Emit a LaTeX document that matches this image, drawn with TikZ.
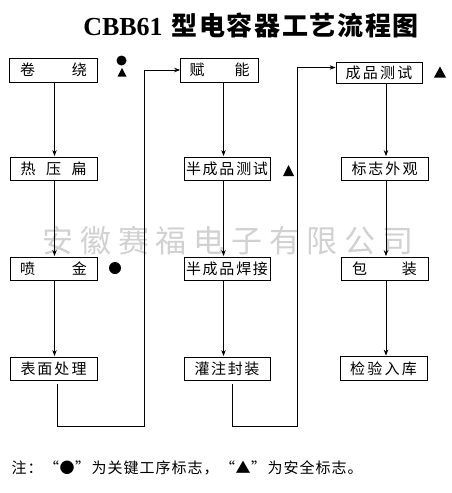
\documentclass[tikz,border=0pt]{standalone}
\usepackage{fontspec}
\setmainfont{Liberation Serif}
\newfontfamily\cjk{Noto Sans CJK SC}
\usetikzlibrary{arrows.meta}
\ExplSyntaxOn
\NewDocumentCommand\spreadtext{mm}{\makebox[#1][s]{\tl_map_inline:nn{#2}{##1\hfill}\unskip}}
\NewDocumentCommand\cells{mm}{\tl_map_inline:nn{#2}{\makebox[#1]{##1}}}
\ExplSyntaxOff
\newcommand\myopenq{\makebox[16pt][r]{“}}
\newcommand\mycloseq{\makebox[16pt][l]{”}}
\begin{document}
\begin{tikzpicture}[x=1pt,y=-1pt,
  box/.style={draw, line width=0.8pt, inner sep=0pt, minimum height=23pt,
    font=\cjk\fontsize{15}{15}\selectfont},
  arr/.style={line width=0.8pt, -{Stealth[length=6pt,width=4.5pt]}, shorten >=0.5pt, shorten <=1pt},
  loopline/.style={line width=0.8pt, -{Stealth[length=6pt,width=4.5pt]}, shorten <=4pt},
  keymark/.style={fill=black}
]
\useasboundingbox (0,0) rectangle (452,493);
\fill[white] (0,0) rectangle (452,493);

% watermark
\node[font=\cjk\fontsize{31}{31}\selectfont, text=black!18, inner sep=0pt] (wm) at (228,240.5)
  {\spreadtext{371pt}{安徽赛福电子有限公司}};

% title
\node (title) at (251,25) {\fontsize{26}{26}\selectfont\bfseries CBB61\hspace{9pt}{\cjk\bfseries\spreadtext{247pt}{型电容器工艺流程图}}};

% column 1
\node[box, minimum width=88pt, minimum height=24pt] (jr) at (53.5,70) {\spreadtext{67pt}{卷绕}};
\node[box, minimum width=87pt] (ry) at (53.5,168.5) {\spreadtext{66pt}{热压扁}};
\node[box, minimum width=87pt] (pj) at (53.5,268.5) {\spreadtext{67pt}{喷金}};
\node[box, minimum width=87pt] (bm) at (53.5,368.5) {\spreadtext{66pt}{表面处理}};

% column 2
\node[box, minimum width=78pt, minimum height=24pt] (fn) at (219.5,70) {\spreadtext{60pt}{赋能}};
\node[box, minimum width=86pt] (bc) at (227,168.5) {\spreadtext{82pt}{半成品测试}};
\node[box, minimum width=86pt] (bh) at (227,268.5) {\spreadtext{82pt}{半成品焊接}};
\node[box, minimum width=86pt] (gz) at (227,368.5) {\spreadtext{65pt}{灌注封装}};

% column 3
\node[box, minimum width=86pt, minimum height=21pt] (cp) at (379,72.5) {\spreadtext{67pt}{成品测试}};
\node[box, minimum width=87pt] (bz) at (384.5,168.5) {\spreadtext{66pt}{标志外观}};
\node[box, minimum width=87pt] (bb) at (384.5,268.5) {\spreadtext{65pt}{包装}};
\node[box, minimum width=87pt, minimum height=24pt] (jy) at (383.5,368.5) {\spreadtext{67pt}{检验入库}};

% helper coordinates
\coordinate (c1) at (54.5,0);
\coordinate (c2) at (223.5,0);
\coordinate (c3) at (386,0);
\coordinate (l1) at (57,0);
\coordinate (l2) at (232,0);
\coordinate (v1) at (144,0);
\coordinate (v2) at (297.5,0);
\coordinate (yb) at (0,426);

% vertical arrows
\draw[arr] (jr.south -| c1) -- (ry.north -| c1);
\draw[arr] (ry.south -| c1) -- (pj.north -| c1);
\draw[arr] (pj.south -| c1) -- (bm.north -| c1);
\draw[arr] (fn.south -| c2) -- (bc.north -| c2);
\draw[arr] (bc.south -| c2) -- (bh.north -| c2);
\draw[arr] (bh.south -| c2) -- (gz.north -| c2);
\draw[arr] (cp.south -| c3) -- (bz.north -| c3);
\draw[arr] (bz.south -| c3) -- (bb.north -| c3);
\draw[arr] (bb.south -| c3) -- (jy.north -| c3);

% loops
\draw[loopline] (bm.south -| l1) -- (l1 |- yb) -- (v1 |- yb) -- (v1 |- fn.west) -- (fn.west);
\draw[loopline] (gz.south -| l2) -- (l2 |- yb) -- (v2 |- yb) -- ([yshift=5pt]v2 |- cp.west) -- ([yshift=5pt]cp.west);

% markers
\fill[keymark] (121.5,60.5) circle (5pt);
\fill[keymark] (117.5,76.5) -- (126.5,76.5) -- (122,68) -- cycle;
\fill[keymark] (115,268) circle (6pt);
\fill[keymark] (283,176) -- (294,176) -- (288.5,165) -- cycle;
\fill[keymark] (434,77.5) -- (446,77.5) -- (440,66.5) -- cycle;

% footnote
\node[anchor=west, font=\cjk\fontsize{15}{15}\selectfont, inner sep=0pt] (note) at (11,468)
  {\cells{16pt}{注：}\myopenq\cells{16pt}{●}\mycloseq\cells{16pt}{为关键工序标志，}\myopenq\cells{16pt}{▲}\mycloseq\cells{16pt}{为安全标志。}};
\end{tikzpicture}
\end{document}
